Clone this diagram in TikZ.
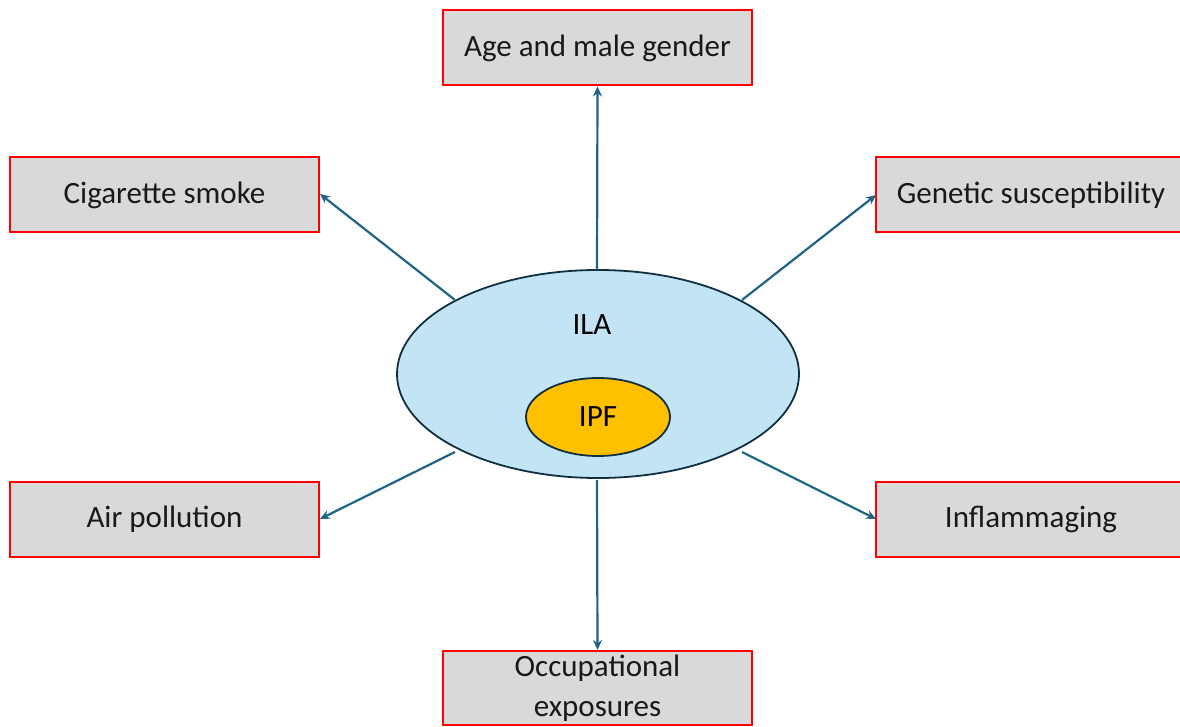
\documentclass[tikz,border=0pt]{standalone}
\usepackage{fontspec}
\setmainfont{Carlito}
\usetikzlibrary{arrows.meta,shapes.geometric}
\definecolor{boxgray}{HTML}{D9D9D9}
\definecolor{ilablue}{HTML}{C2E4F4}
\definecolor{ipfgold}{HTML}{FFC000}
\definecolor{arrowblue}{HTML}{1F6485}
\definecolor{edgedark}{HTML}{10303F}
\begin{document}
\begin{tikzpicture}[x=1pt,y=-1pt,
  factor/.style={draw=red,line width=2pt,fill=boxgray,minimum width=309pt,minimum height=75pt,inner sep=0pt,align=center,font=\fontsize{31}{36}\selectfont,text=black!90},
  link/.style={draw=arrowblue,line width=2.2pt,-{Stealth[length=10pt,width=9pt]}}]
\useasboundingbox (0,0) rectangle (1180,727);
\node[ellipse,draw=edgedark,line width=1.8pt,fill=ilablue,minimum width=402pt,minimum height=208pt,inner sep=0pt] (ila) at (598,374) {};
\node[font=\fontsize{31}{36}\selectfont] (ilat) at (592,325) {ILA};
\node[ellipse,draw=edgedark,line width=1.8pt,fill=ipfgold,minimum width=144pt,minimum height=78pt,inner sep=0pt,font=\fontsize{31}{36}\selectfont] (ipf) at (598,417) {IPF};
\node[factor] (age) at (597.5,48) {Age and male gender};
\node[factor] (cig) at (164.5,195) {Cigarette smoke};
\node[factor,minimum width=310pt] (gen) at (1031,195) {Genetic susceptibility};
\node[factor] (air) at (164.5,519.5) {Air pollution};
\node[factor,minimum width=310pt] (inf) at (1031,519.5) {Inflammaging};
\node[factor,minimum height=74pt,font=\fontsize{31}{40}\selectfont] (occ) at (597.5,688) {Occupational\\exposures};
\coordinate (s1) at (597,270);
\coordinate (s2) at (455,300);
\coordinate (s3) at (742,300);
\coordinate (s4) at (455,452);
\coordinate (s5) at (742,452);
\coordinate (s6) at (597,480);
\coordinate (e2) at (320,194);
\coordinate (e3) at (876,195);
\coordinate (e4) at (320,519);
\coordinate (e5) at (876,519);
\draw[link] (s1) -- (age.south);
\draw[link] (s2) -- (e2);
\draw[link] (s3) -- (e3);
\draw[link] (s4) -- (e4);
\draw[link] (s5) -- (e5);
\draw[link] (s6) -- (occ.north);
\end{tikzpicture}
\end{document}
